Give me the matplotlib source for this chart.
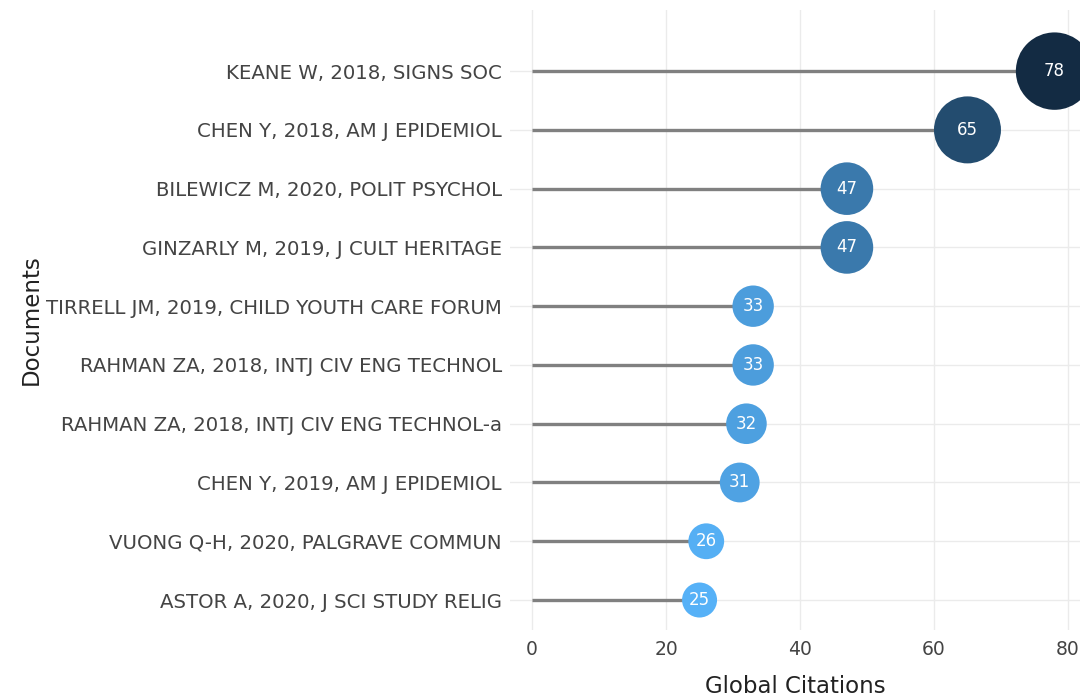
import matplotlib

matplotlib.use("Agg")
import matplotlib.pyplot as plt
from matplotlib.colors import LinearSegmentedColormap, Normalize

documents = [
    "ASTOR A, 2020, J SCI STUDY RELIG",
    "VUONG Q-H, 2020, PALGRAVE COMMUN",
    "CHEN Y, 2019, AM J EPIDEMIOL",
    "RAHMAN ZA, 2018, INTJ CIV ENG TECHNOL-a",
    "RAHMAN ZA, 2018, INTJ CIV ENG TECHNOL",
    "TIRRELL JM, 2019, CHILD YOUTH CARE FORUM",
    "GINZARLY M, 2019, J CULT HERITAGE",
    "BILEWICZ M, 2020, POLIT PSYCHOL",
    "CHEN Y, 2018, AM J EPIDEMIOL",
    "KEANE W, 2018, SIGNS SOC",
]
citations = [25, 26, 31, 32, 33, 33, 47, 47, 65, 78]
x_ticks = [0, 20, 40, 60, 80]

# ggplot-style blue gradient, reversed so large values are dark
cmap = LinearSegmentedColormap.from_list("cites", ["#56B1F7", "#132B43"])
norm = Normalize(vmin=min(citations), vmax=max(citations))

fig = plt.figure(figsize=(10.85, 6.97), dpi=100)
ax = fig.add_axes([510 / 1085, 1 - 630 / 697, 570 / 1085, 620 / 697])

ys = list(range(len(documents)))
ax.hlines(ys, 0, citations, color="#808080", lw=2.4, zorder=2)
# marker diameter in pixels grows with the value
sizes = [((15 + 0.8 * v) * 72 / 100) ** 2 for v in citations]
ax.scatter(citations, ys, s=sizes, c=[cmap(norm(v)) for v in citations],
           zorder=3, linewidths=0)
for v, y in zip(citations, ys):
    ax.text(v, y, str(v), color="white", ha="center", va="center",
            fontsize=12, zorder=4)

ax.set_xlim(-3.3, 81.8)
ax.set_ylim(-0.51, len(documents) - 1 + 1.04)
ax.set_xticks(x_ticks)
ax.set_yticks(ys)
ax.set_yticklabels(documents)
ax.tick_params(axis="both", length=0, colors="#444444")
ax.tick_params(axis="y", labelsize=14.2, pad=6)
ax.tick_params(axis="x", labelsize=13.5, pad=7)
ax.grid(True, color="#ebebeb", lw=1.0, zorder=0)
for s in ax.spines.values():
    s.set_visible(False)
ax.set_xlabel("Global Citations", fontsize=16.5, color="#222222", labelpad=12)
ax.set_ylabel("Documents", fontsize=16.5, color="#222222", labelpad=2)

fig.savefig("out.png", dpi=100)
